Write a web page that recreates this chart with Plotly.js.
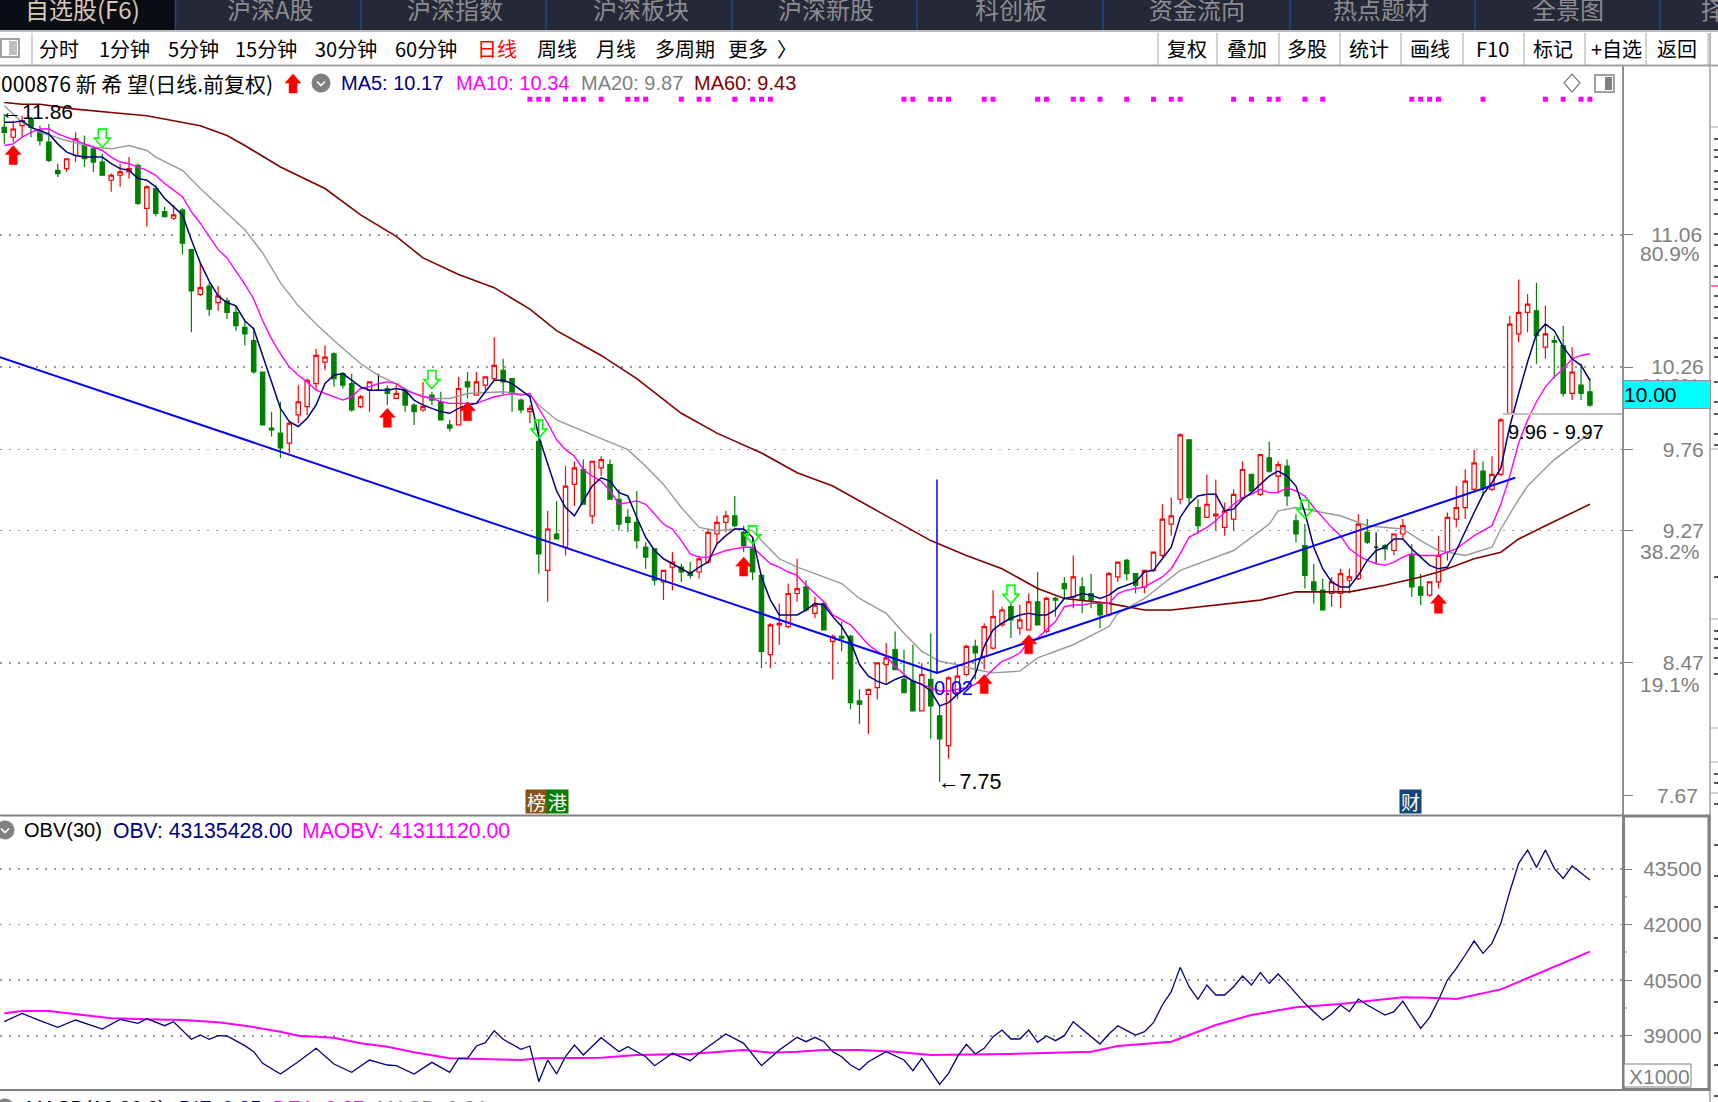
<!DOCTYPE html>
<html><head><meta charset="utf-8">
<script src="https://cdn.plot.ly/plotly-3.0.1.min.js"></script>
<style>html,body{margin:0;padding:0;background:#fff;overflow:hidden}#c{width:1718px;height:1102px}</style>
</head><body><div id="c"></div>
<script>
const highs=[11.79,11.75,11.78,11.77,11.72,11.73,11.49,11.52,11.68,11.66,
11.60,11.55,11.43,11.49,11.53,11.49,11.36,11.36,11.23,11.24,
11.22,10.97,10.89,10.77,10.75,10.68,10.63,10.54,10.50,10.23,
9.99,10.05,9.93,10.15,10.19,10.37,10.39,10.35,10.23,10.22,
10.09,10.17,10.22,10.15,10.16,10.13,10.04,10.17,10.11,10.11,
9.94,10.20,10.23,10.23,10.20,10.44,10.31,10.19,10.07,10.03,
9.94,9.39,9.45,9.66,9.69,9.70,9.69,9.72,9.70,9.52,
9.40,9.51,9.20,9.16,9.03,9.14,9.07,9.08,9.12,9.28,
9.36,9.39,9.48,9.30,9.23,9.00,8.71,8.83,8.95,9.10,
8.97,8.87,8.84,8.64,8.72,8.64,8.31,8.31,8.47,8.59,
8.66,8.55,8.58,8.47,8.65,8.21,8.39,8.46,8.58,8.61,
8.71,8.91,8.81,8.83,8.82,8.89,9.02,8.87,8.87,8.99,
9.12,8.99,9.01,8.84,9.02,9.08,9.10,9.01,9.03,9.14,
9.43,9.47,9.86,9.82,9.46,9.61,9.58,9.44,9.52,9.69,
9.61,9.73,9.81,9.69,9.70,9.37,9.31,9.07,8.98,8.99,
9.04,9.04,9.37,9.34,9.26,9.19,9.25,9.34,9.19,9.01,
8.96,9.24,9.38,9.54,9.64,9.76,9.69,9.72,9.95,10.57,
10.79,10.70,10.77,10.63,10.45,10.51,10.38,10.28,10.19];
const lows=[11.61,11.62,11.65,11.65,11.60,11.50,11.41,11.44,11.50,11.47,
11.44,11.42,11.32,11.35,11.40,11.24,11.11,11.17,11.17,11.15,
10.94,10.47,10.69,10.57,10.60,10.55,10.48,10.39,10.22,9.91,
9.84,9.71,9.74,9.92,9.97,10.12,10.24,10.14,10.13,9.99,
10.01,9.99,10.12,10.03,10.07,9.99,9.91,9.99,10.03,9.94,
9.87,9.91,10.07,10.09,10.12,10.18,10.09,9.99,9.98,9.92,
9.01,8.84,9.22,9.12,9.42,9.43,9.31,9.60,9.46,9.27,
9.26,9.16,9.04,8.94,8.85,8.91,8.96,8.98,8.98,9.07,
9.19,9.26,9.29,9.14,8.97,8.44,8.44,8.58,8.68,8.84,
8.78,8.74,8.67,8.37,8.54,8.19,8.10,8.04,8.25,8.35,
8.43,8.29,8.18,8.18,8.01,7.75,7.89,8.25,8.39,8.37,
8.43,8.55,8.69,8.62,8.64,8.67,8.70,8.65,8.75,8.86,
8.80,8.77,8.80,8.68,8.75,8.96,8.97,8.89,8.89,9.02,
9.11,9.24,9.43,9.43,9.25,9.35,9.27,9.24,9.27,9.46,
9.49,9.48,9.62,9.50,9.42,9.20,8.92,8.83,8.79,8.81,
8.80,8.89,8.97,9.19,9.07,9.09,9.12,9.22,8.87,8.82,
8.87,8.92,9.09,9.29,9.34,9.51,9.48,9.51,9.60,9.97,
10.41,10.47,10.28,10.31,10.19,10.08,10.06,10.06,10.02];
const opens=[11.71,11.65,11.72,11.76,11.69,11.62,11.45,11.46,11.54,11.60,
11.58,11.50,11.39,11.42,11.44,11.48,11.22,11.34,11.20,11.16,
11.21,10.97,10.70,10.75,10.65,10.66,10.59,10.50,10.42,10.23,
9.89,9.86,9.80,9.97,10.02,10.16,10.29,10.34,10.22,10.16,
10.02,10.12,10.12,10.13,10.07,10.12,10.03,10.00,10.09,10.05,
9.91,9.91,10.17,10.09,10.15,10.19,10.24,10.19,10.06,9.99,
9.81,9.03,9.25,9.17,9.55,9.64,9.36,9.65,9.67,9.46,
9.35,9.32,9.17,9.16,8.96,9.05,9.05,9.02,9.02,9.08,
9.25,9.32,9.36,9.26,9.16,9.00,8.52,8.70,8.69,8.89,
8.93,8.77,8.83,8.60,8.63,8.63,8.24,8.28,8.32,8.46,
8.55,8.37,8.36,8.18,8.37,8.15,7.97,8.29,8.40,8.57,
8.51,8.56,8.70,8.81,8.68,8.67,8.84,8.66,8.86,8.95,
8.87,8.93,8.89,8.83,8.76,8.99,9.09,9.01,8.93,9.03,
9.12,9.31,9.46,9.82,9.41,9.35,9.36,9.29,9.34,9.47,
9.61,9.49,9.71,9.60,9.66,9.33,9.18,8.96,8.91,8.89,
8.89,8.97,8.98,9.26,9.17,9.18,9.15,9.25,9.12,8.93,
8.88,8.96,9.14,9.34,9.41,9.52,9.63,9.52,9.61,9.98,
10.46,10.59,10.60,10.38,10.42,10.39,10.10,10.15,10.11];
const closes=[11.68,11.70,11.75,11.71,11.63,11.51,11.43,11.52,11.64,11.52,
11.50,11.42,11.42,11.44,11.46,11.25,11.35,11.19,11.17,11.18,
11.01,10.72,10.74,10.61,10.69,10.59,10.51,10.46,10.23,9.91,
9.88,9.77,9.92,10.05,10.18,10.33,10.32,10.19,10.15,10.00,
10.08,10.17,10.12,10.10,10.10,10.03,9.99,10.02,10.06,9.94,
9.89,10.13,10.14,10.17,10.20,10.27,10.17,10.10,10.00,10.01,
9.13,9.28,9.22,9.54,9.65,9.43,9.69,9.70,9.46,9.31,
9.32,9.21,9.11,8.97,9.03,9.08,9.02,9.00,9.10,9.26,
9.32,9.36,9.30,9.18,9.02,8.54,8.70,8.71,8.89,8.92,
8.79,8.82,8.67,8.63,8.62,8.23,8.22,8.31,8.47,8.50,
8.43,8.29,8.18,8.40,8.21,8.01,8.38,8.39,8.57,8.53,
8.69,8.75,8.79,8.73,8.73,8.84,8.70,8.86,8.85,8.92,
8.99,8.85,8.85,8.76,9.01,9.08,9.01,8.94,9.03,9.14,
9.34,9.36,9.85,9.47,9.30,9.43,9.37,9.39,9.49,9.64,
9.51,9.73,9.63,9.67,9.48,9.25,9.00,8.91,8.79,8.96,
9.01,8.99,9.31,9.20,9.17,9.16,9.25,9.30,8.93,8.88,
8.96,9.12,9.35,9.41,9.57,9.68,9.53,9.61,9.94,10.52,
10.59,10.64,10.45,10.46,10.41,10.10,10.23,10.10,10.03];
const dojiDays=[42,154];
const ma5=[11.74,11.74,11.75,11.71,11.69,11.67,11.61,11.56,11.54,11.53,
11.53,11.53,11.49,11.46,11.45,11.40,11.39,11.35,11.28,11.23,
11.18,11.03,10.89,10.78,10.69,10.65,10.63,10.54,10.49,10.33,
10.17,10.01,9.93,9.90,9.95,10.03,10.16,10.21,10.22,10.18,
10.14,10.12,10.12,10.12,10.13,10.12,10.06,10.03,10.01,9.99,
9.98,10.01,10.03,10.04,10.11,10.18,10.18,10.16,10.12,10.08,
9.84,9.68,9.51,9.41,9.36,9.45,9.54,9.59,9.57,9.50,
9.48,9.35,9.23,9.15,9.10,9.07,9.04,9.01,9.05,9.08,
9.19,9.24,9.28,9.28,9.23,8.99,8.85,8.76,8.76,8.76,
8.79,8.83,8.82,8.75,8.69,8.60,8.46,8.39,8.36,8.34,
8.37,8.39,8.36,8.34,8.30,8.21,8.23,8.28,8.32,8.40,
8.57,8.67,8.71,8.74,8.76,8.77,8.76,8.76,8.79,8.86,
8.87,8.89,8.88,8.86,8.88,8.92,8.94,8.96,9.02,9.03,
9.10,9.17,9.35,9.43,9.48,9.49,9.49,9.39,9.40,9.46,
9.50,9.55,9.60,9.63,9.60,9.54,9.38,9.17,9.04,8.96,
8.93,8.93,9.00,9.09,9.15,9.17,9.22,9.22,9.16,9.11,
9.06,9.04,9.05,9.15,9.27,9.38,9.49,9.56,9.65,9.90,
10.10,10.29,10.46,10.52,10.48,10.38,10.31,10.27,10.18];
const ma10=[11.60,11.61,11.65,11.68,11.70,11.70,11.67,11.65,11.63,11.61,
11.59,11.57,11.53,11.50,11.49,11.47,11.45,11.42,11.37,11.33,
11.29,11.20,11.13,11.05,10.97,10.92,10.84,10.76,10.67,10.54,
10.43,10.34,10.26,10.21,10.17,10.12,10.10,10.08,10.06,10.08,
10.13,10.14,10.16,10.17,10.16,10.12,10.10,10.08,10.07,10.05,
10.04,10.04,10.04,10.04,10.06,10.08,10.09,10.10,10.09,10.10,
10.01,9.92,9.82,9.76,9.72,9.64,9.60,9.57,9.51,9.43,
9.44,9.45,9.43,9.37,9.31,9.28,9.21,9.13,9.11,9.11,
9.13,9.15,9.16,9.17,9.17,9.12,9.07,9.05,9.02,9.00,
8.94,8.89,8.84,8.76,8.73,8.70,8.64,8.58,8.54,8.51,
8.45,8.40,8.36,8.34,8.32,8.30,8.30,8.31,8.32,8.34,
8.38,8.43,8.48,8.50,8.53,8.60,8.62,8.67,8.72,8.81,
8.82,8.82,8.83,8.83,8.83,8.89,8.91,8.92,8.93,8.96,
8.99,9.04,9.13,9.23,9.26,9.29,9.33,9.38,9.43,9.47,
9.49,9.52,9.50,9.50,9.53,9.51,9.48,9.41,9.35,9.29,
9.24,9.16,9.12,9.09,9.07,9.06,9.08,9.11,9.13,9.12,
9.12,9.12,9.14,9.16,9.20,9.24,9.27,9.30,9.43,9.60,
9.80,9.94,10.05,10.14,10.20,10.25,10.31,10.33,10.34];
const ma20Days=[0,2,4,7,10,12,14,16,17,20,22,24,27,29,31,33,35,37,40,42,44,46,48,50,52,56,59,60,62,66,70,72,74,76,78,80,82,84,85,87,89,91,94,96,99,101,103,105,107,109,111,114,116,120,124,125,128,132,138,142,143,145,147,150,153,157,159,161,164,167,168,170,171,174,176,178];
const ma20=[11.84,11.74,11.68,11.63,11.59,11.58,11.60,11.57,11.53,11.45,11.34,11.24,11.09,10.95,10.77,10.63,10.52,10.42,10.28,10.21,10.16,10.10,10.07,10.07,10.10,10.11,10.09,10.03,9.94,9.85,9.76,9.66,9.55,9.41,9.29,9.27,9.28,9.27,9.21,9.10,9.05,9.01,8.95,8.86,8.77,8.65,8.54,8.48,8.46,8.43,8.41,8.42,8.50,8.58,8.69,8.77,8.86,9.03,9.15,9.31,9.39,9.41,9.39,9.36,9.30,9.28,9.21,9.15,9.12,9.17,9.28,9.46,9.54,9.70,9.78,9.86];
const ma60Days=[0,2,4,8,12,16,19,22,25,27,31,36,40,44,47,51,55,59,62,64,67,71,76,80,85,89,93,98,104,108,112,116,119,124,128,131,136,141,145,151,155,159,161,165,168,170,173,178];
const ma60=[11.86,11.85,11.85,11.82,11.80,11.78,11.75,11.72,11.66,11.60,11.47,11.34,11.18,11.05,10.92,10.82,10.74,10.61,10.48,10.42,10.33,10.19,9.98,9.86,9.74,9.62,9.54,9.39,9.21,9.12,9.04,8.92,8.86,8.83,8.79,8.79,8.82,8.85,8.90,8.90,8.94,8.99,9.02,9.10,9.14,9.22,9.30,9.43];
const trendDays=[-0.5,104.7,169.6];
const trendPrices=[10.32,8.41,9.59];
const pivotDays=[104.7,104.7];
const pivotPrices=[9.58,8.41];
const markDays=[59,60,61,63,64,65,67,70,71,72,76,78,79,82,84,85,86,101,102,104,105,106,110,111,116,117,120,121,123,126,129,131,132,138,140,142,143,146,148,158,159,160,161,166,173,175,177,178];
const markLevel=11.88;
const upDays=[1,43,52,83,110,115,161];
const upPrices=[11.60,10.01,10.05,9.11,8.40,8.64,8.885];
const downDays=[11,48,60,84,113,146];
const downPrices=[11.59,10.13,9.83,9.19,8.83,9.345];
const obvDays=[0,2,4,6,8,11,13,15,16,18,19,21,22,23,24,25,27,28,29,31,33,35,37,39,41,43,44,46,48,50,51,52,53,54,55,56,58,59,60,61,62,63,64,65,67,69,70,72,73,75,77,78,81,83,85,87,89,90,91,92,93,94,95,96,97,99,101,102,103,105,106,107,108,109,110,111,112,113,114,115,116,117,118,119,120,121,122,123,124,125,126,127,128,129,130,131,132,133,134,135,136,137,138,139,140,141,142,143,144,145,146,147,148,149,150,151,152,153,154,155,156,157,158,159,160,161,162,163,164,165,166,167,168,169,170,171,172,173,174,175,176,177,178];
const obv=[39381,39606,39408,39228,39426,39183,39444,39336,39462,39273,39381,38905,39021,38905,39004,38995,38734,38572,38257,37969,38302,38662,38239,38014,38347,38212,38194,37969,38284,38014,38392,38392,38725,38815,39138,38905,38635,38725,37762,38347,37969,38437,38752,38482,38949,38572,38707,38437,38194,38527,38329,38527,39048,38797,38194,38617,38959,38842,38959,38842,38572,38437,38212,38077,38302,38572,38347,38059,38392,37690,37987,38437,38770,38509,38662,38977,39156,38914,38914,39156,38823,38995,38869,39004,39381,39183,38977,38779,39049,39273,39138,39021,39111,39354,39831,40190,40847,40325,39984,40370,40101,40101,40325,40613,40370,40703,40415,40667,40415,40146,39876,39651,39426,39588,39831,39651,39992,39831,39696,39561,39651,39938,39561,39201,39498,39966,40505,40820,41180,41557,41225,41494,42034,42888,43653,44012,43545,44012,43518,43248,43581,43383,43203];
const maobvDays=[0,2,5,8,12,16,20,24,27,31,33,37,40,43,46,50,58,60,67,71,77,83,86,89,92,96,100,104,113,122,125,131,136,140,145,150,157,160,163,168,178];
const maobv=[39606,39669,39669,39579,39471,39444,39426,39363,39273,39111,39004,38950,38797,38707,38554,38392,38347,38392,38410,38482,38509,38617,38545,38572,38617,38617,38572,38482,38509,38572,38725,38842,39291,39561,39768,39858,40038,40029,39992,40253,41270];
const priceTicks=[11.06,10.26,9.76,9.27,8.47];
const priceTickText=['11.06','10.26','\u20079.76','\u20079.27','\u20078.47'];
const lowestTick=7.67;
const obvTicks=[43500,42000,40500,39000];
const navTabs=['自选股(F6)','沪深A股','沪深指数','沪深板块','沪深新股','科创板','资金流向','热点题材','全景图'];
const periodTabs=['分时','1分钟','5分钟','15分钟','30分钟','60分钟','日线','周线','月线','多周期','更多  〉'];
const toolButtons=['复权','叠加','多股','统计','画线','F10','标记','+自选','返回'];

const W=1718,H=1102,CJK='"Noto Sans CJK SC","Liberation Sans",sans-serif',LAT='"Liberation Sans",Arial,sans-serif';
const days=highs.map((_,i)=>i);
const px=x=>x/W, py=y=>1-y/H;
const solidDays=days.filter(d=>!dojiDays.includes(d));
const pick=(a,ds)=>ds.map(d=>a[d]);

const traces=[
 {type:'candlestick',x:solidDays,open:pick(opens,solidDays),high:pick(highs,solidDays),low:pick(lows,solidDays),close:pick(closes,solidDays),
  increasing:{line:{color:'#ff0000',width:1.2},fillcolor:'#ffffff'},decreasing:{line:{color:'#008000',width:1.2},fillcolor:'#008000'},whiskerwidth:0,showlegend:false},
 {type:'candlestick',x:dojiDays,open:pick(opens,dojiDays),high:pick(highs,dojiDays),low:pick(lows,dojiDays),close:pick(closes,dojiDays),
  increasing:{line:{color:'#000000',width:1.2}},decreasing:{line:{color:'#000000',width:1.2}},whiskerwidth:0,showlegend:false},
 {type:'scatter',mode:'lines',x:ma60Days,y:ma60,line:{color:'#800000',width:1.6}},
 {type:'scatter',mode:'lines',x:ma20Days,y:ma20,line:{color:'#999999',width:1.4}},
 {type:'scatter',mode:'lines',x:days,y:ma10,line:{color:'#ff00ff',width:1.4}},
 {type:'scatter',mode:'lines',x:days,y:ma5,line:{color:'#000080',width:1.5}},
 {type:'scatter',mode:'lines',x:trendDays,y:trendPrices,line:{color:'#0000ff',width:2}},
 {type:'scatter',mode:'lines',x:pivotDays,y:pivotPrices,line:{color:'#0000ff',width:1.5}},
 {type:'scatter',mode:'markers',x:markDays,y:markDays.map(()=>markLevel),marker:{symbol:'square',size:5,color:'#ff00ff'}},
 {type:'scatter',mode:'lines',x:maobvDays,y:maobv,yaxis:'y2',line:{color:'#ff00ff',width:2}},
 {type:'scatter',mode:'lines',x:obvDays,y:obv,yaxis:'y2',line:{color:'#000080',width:1.3}}
];

const shapes=[];
const rect=(x0,y0,x1,y1,fill,line,w,layer)=>shapes.push({type:'rect',xref:'paper',yref:'paper',x0:px(x0),x1:px(x1),y0:py(y1),y1:py(y0),fillcolor:fill||'rgba(0,0,0,0)',line:{color:line||'rgba(0,0,0,0)',width:w||0},layer:layer||'above'});
const seg=(x0,y0,x1,y1,c,w)=>shapes.push({type:'line',xref:'paper',yref:'paper',x0:px(x0),x1:px(x1),y0:py(y0),y1:py(y1),line:{color:c,width:w||1}});
const glyph=(path,ax,ay,fill,line,w,dataRef)=>shapes.push({type:'path',path,xsizemode:'pixel',ysizemode:'pixel',xref:dataRef?'x':'paper',yref:dataRef?'y':'paper',xanchor:ax,yanchor:ay,fillcolor:fill,line:{color:line,width:w}});

// chrome
rect(0,0,W,30,'#252836');
rect(0,0,175,30,'#0a0c14');
[175.5,361,546,732,917,1103,1290,1475,1660].forEach(x=>seg(x,0,x,30,'#1a4a90',1.5));
seg(0,65.5,W,65.5,'#a0a0a0',2);
seg(0,31,W,31,'#bdbdbd',2);
seg(32,33,32,65,'#a8a8a8',1);
[1158,1217,1279,1340,1401,1463,1524,1585,1646,1708].forEach(x=>seg(x,33,x,65,'#a8a8a8',1));
rect(1,39,19,57,'#ffffff','#a0a0a0',2);
rect(9,41,17,55,'#c0c0c0');
rect(1595,75,1614,92,'#ffffff','#a0a0a0',2);
rect(1605,77,1612,90,'#808080');
glyph('M0 9 L8 0 L0 -9 L-8 0 Z',px(1572),py(83),'#ffffff','#808080',1.2);
seg(1710,33,1710,H,'#a0a0a0',1.5);
[127,449,619,728,762,793].forEach(y=>seg(1710,y,W,y,'#a8a8a8',1));
[139,150,157,171,182,189,200,214,234,245,266,277,296,307,318,338,348,357,382,402,414,434,445,577,631,639,648,658,674,774,783,804,845,876,907,938,971,1002,1033,1065,1096].forEach(y=>seg(1714,y,W,y,'#222222',1.5));
seg(1711,286,W,286,'#ff40a0',1.5);
// icons: info arrow and collapse circles
const upArrow='M0 0 L8 -9 L4 -9 L4 -19 L-4 -19 L-4 -9 L-8 -9 Z';
const downArrow='M0 0 L8 9 L4 9 L4 18 L-4 18 L-4 9 L-8 9 Z';
glyph(upArrow,px(293),py(74),'#ff0000','#ff0000',0.5);
[[321,83],[5,830],[5,1108]].forEach(([x,y])=>{
 shapes.push({type:'circle',xref:'paper',yref:'paper',x0:px(x-9.5),x1:px(x+9.5),y0:py(y+9.5),y1:py(y-9.5),fillcolor:'#808080',line:{width:0}});
 glyph('M-4 1.5 L0 -2.5 L4 1.5',px(x),py(y),'rgba(0,0,0,0)','#ffffff',1.6);
});
// panels
seg(0,815.5,1622,815.5,'#808080',2);
seg(0,1090,1622,1090,'#808080',2);
rect(1623.5,816,1709,1089.5,null,'#808080',3);
rect(1624,1064,1691,1087,'#ffffff','#808080',1);
seg(1503,414,1622,414,'#c0c0c0',2);
[897,952,1008].forEach(y=>seg(1623,y,1627,y,'#808080',1));
upDays.forEach((d,i)=>glyph(upArrow,d,upPrices[i],'#ff0000','#ff0000',0.5,true));
downDays.forEach((d,i)=>glyph(downArrow,d,downPrices[i],'rgba(0,0,0,0)','#00ff00',1.6,true));

const ann=[];
const note=(x,y,text,color,size,opt)=>ann.push(Object.assign({xref:'paper',yref:'paper',x:px(x),y:py(y),text,showarrow:false,xanchor:'left',yanchor:'middle',font:{family:LAT,size,color},borderpad:0},opt||{}));
const navX=[82,270,455,641,826,1011,1197,1381,1568];
navTabs.forEach((t,i)=>note(navX[i],8,t,i==0?'#d8c8b8':'#8c8c90',24,{xanchor:'center',font:{family:CJK,size:24,color:i==0?'#d8c8b8':'#8c8c90'}}));
note(1700,8,'择','#8c8c90',24,{font:{family:CJK,size:24,color:'#8c8c90'}});
const periodX=[59,124,193,266,346,426,497,557,616,685,762];
periodTabs.forEach((t,i)=>note(periodX[i],48,t,'',20,{xanchor:'center',font:{family:CJK,size:20,color:t==='日线'?'#ff0000':'#000000'}}));
const toolX=[1187,1247,1307,1369,1430,1492,1553,1616,1677];
toolButtons.forEach((t,i)=>note(toolX[i],48,t,'',20,{xanchor:'center',font:{family:CJK,size:20,color:'#000000'}}));
note(0,83,'000876 新 希 望(日线.前复权)','',21,{font:{family:CJK,size:21,color:'#000000'}});
note(340,83,'MA5: 10.17','#000080',20);
note(455,83,'MA10: 10.34','#ff00ff',20);
note(580,83,'MA20: 9.87','#808080',20);
note(693,83,'MA60: 9.43','#800000',20);
note(0,112,'←11.86','#000000',21);
ann.push({xref:'x',yref:'y',x:105,y:7.75,text:'←7.75',showarrow:false,xanchor:'left',yanchor:'middle',xshift:-4,font:{family:LAT,size:21.5,color:'#000000'}});
ann.push({xref:'x',yref:'y',x:106.5,y:8.32,text:'0.02',showarrow:false,font:{family:LAT,size:20,color:'#0000ff'}});
note(1507,432,'9.96 - 9.97','#000000',20);
note(23,830,'OBV(30)','#000000',20);
note(112,830,'OBV: 43135428.00','#000080',21.2);
note(301,830,'MAOBV: 41311120.00','#ff00ff',21.2);
note(25,1108,'MACD(12,26,9)','#000000',20);
note(178,1108,'DIF: 0.35','#000080',20);
note(272,1108,'DEA: 0.27','#ff00ff',20);
note(376,1108,'MACD: 0.84','#808080',20);
[[254,'80.9%'],[386,'61.8%'],[551,'38.2%'],[684,'19.1%']].forEach(([y,t])=>note(1701,y,t,'#808080',21,{xanchor:'right'}));
ann.push({xref:'paper',yref:'y',x:px(1700),y:lowestTick,text:String(lowestTick),showarrow:false,xanchor:'right',yanchor:'middle',font:{family:LAT,size:21,color:'#808080'}});
note(1623,395,'10.00','#000000',21,{bgcolor:'#00ffff',width:86,height:27,align:'left',xanchor:'left',bordercolor:'#909090',borderwidth:1});
note(1628,1076,'X1000','#808080',21);
const badge=(x,t,bg)=>note(x,801.5,t,'#ffffff',19,{xanchor:'left',width:21,height:23,bgcolor:bg,font:{family:CJK,size:19,color:'#ffffff'}});
badge(525,'榜','#8b5014');badge(546,'港','#008000');badge(1399,'财','#114477');

const layout={width:W,height:H,margin:{l:0,r:0,t:0,b:0,pad:0},paper_bgcolor:'#ffffff',plot_bgcolor:'#ffffff',showlegend:false,hovermode:false,dragmode:false,
 xaxis:{domain:[0,1622/W],range:[-0.483,181.6],visible:false,fixedrange:true,rangeslider:{visible:false},type:'linear'},
 yaxis:{domain:[py(815),py(66)],range:[7.55,12.081],side:'right',anchor:'x',tickmode:'array',tickvals:priceTicks,ticktext:priceTickText,tickfont:{family:LAT,size:21,color:'#808080'},ticks:'outside',ticklen:9,tickcolor:'#808080',ticklabelstandoff:14,showline:true,linecolor:'#909090',linewidth:2,showgrid:true,gridcolor:'#9a9a9a',griddash:'2px,7px',gridwidth:1.6,zeroline:false,fixedrange:true,
  minor:{tickmode:'array',tickvals:[lowestTick],ticks:'outside',ticklen:9,tickcolor:'#808080',showgrid:false}},
 yaxis2:{domain:[py(1089),py(816)],range:[37565,44930],side:'right',anchor:'x',tickmode:'array',tickvals:obvTicks,ticktext:obvTicks.map(String),tickfont:{family:LAT,size:21,color:'#808080'},ticks:'outside',ticklen:9,tickcolor:'#808080',ticklabelstandoff:7,showline:false,showgrid:true,gridcolor:'#9a9a9a',griddash:'2px,7px',gridwidth:1.6,zeroline:false,fixedrange:true},
 shapes,annotations:ann};
Plotly.newPlot('c',traces,layout,{staticPlot:true,displayModeBar:false});
</script></body></html>
